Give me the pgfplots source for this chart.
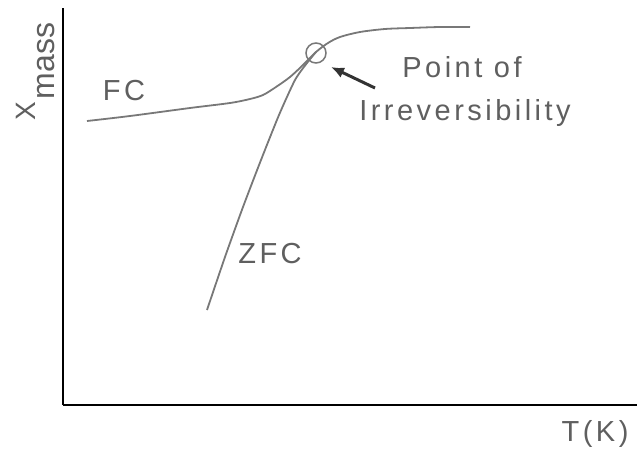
\documentclass[border=0pt]{standalone}
\usepackage{pgfplots}
\pgfplotsset{compat=1.18}
\usepackage{fontspec}
\setmainfont{Liberation Sans}
\newfontfamily\labfont{Liberation Sans}[LetterSpace=12]
\usetikzlibrary{arrows.meta}
\definecolor{curvegray}{RGB}{120,120,120}
\definecolor{textgray}{RGB}{95,95,95}
\tikzset{lab/.style={font=\labfont\fontsize{29}{34}\selectfont, text=textgray, inner sep=0pt}}
\begin{document}
\begin{tikzpicture}
\useasboundingbox (-63pt,-46pt) rectangle (575pt,405pt);
\begin{axis}[
  anchor=origin, at={(0pt,0pt)},
  scale only axis, width=574pt, height=397pt,
  xmin=0, xmax=574, ymin=0, ymax=397,
  axis lines=left,
  axis line style={-, line width=2.4pt, black},
  xtick=\empty, ytick=\empty,
  clip=false,
]
% field-cooled branch
\addplot[curvegray, line width=1.8pt, smooth, tension=0.5] coordinates {
  (24,284) (67,289) (127,297) (167,302) (187,306) (200,310) (213,318)
  (227,328) (240,340) (253,353) (265,362) (277,368) (297,373) (322,376)
  (347,377) (377,378) (407,378)
};
% zero-field-cooled branch
\addplot[curvegray, line width=1.8pt, smooth, tension=0.4] coordinates {
  (144,95) (162,148) (180,198) (198,245) (216,290) (232,325) (244,342) (253,353)
};
% irreversibility point
\addplot[only marks, mark=o, mark size=10pt, mark options={curvegray, line width=1.5pt}]
  coordinates {(253,352)};
\draw[line width=3pt, -{Latex[length=13pt,width=11pt]}, black!80] (axis cs:312,317) -- (axis cs:268,338);
\node[lab, anchor=base] at (axis cs:61,305) {FC};
\node[lab, anchor=base] at (axis cs:207,142) {ZFC};
\node[lab, anchor=base] at (axis cs:399,327) {Point of};
\node[lab, anchor=base] at (axis cs:402,285) {Irreversibility};
\node[lab, anchor=base] at (axis cs:532,-36) {T(K)};
\node[text=textgray, inner sep=0pt, rotate=90, anchor=base west] at (axis cs:-27,284)
  {\fontsize{28}{34}\selectfont X\hspace{3pt}\raisebox{-19pt}{\fontsize{32}{36}\selectfont mass}};
\end{axis}
\end{tikzpicture}
\end{document}
